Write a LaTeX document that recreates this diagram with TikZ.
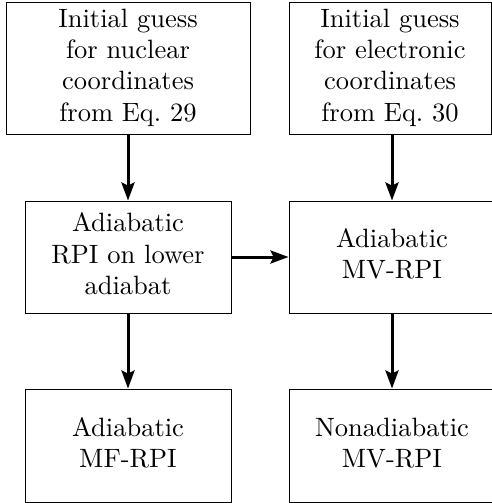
\documentclass[tikz,border=0pt]{standalone}
\usepackage{fontspec}
\usepackage{graphicx}
\usetikzlibrary{arrows.meta}
\newcommand{\boxtext}[1]{\scalebox{2.65}{\fontsize{10}{11.8}\selectfont\begin{tabular}{@{}c@{}}#1\end{tabular}}}
\begin{document}
\begin{tikzpicture}[x=1pt,y=-1pt,
  box/.style={draw, line width=0.9pt, align=center, inner sep=0pt},
  flow/.style={line width=3pt, -{Stealth[length=18pt,width=13pt,inset=3pt]}}]
\useasboundingbox (0,0) rectangle (492,503);
\node[box, minimum width=244pt, minimum height=132pt] (tl) at (128,68)
  {\boxtext{Initial guess\\for nuclear\\coordinates\\from Eq.~29}};
\node[box, minimum width=202pt, minimum height=132pt] (tr) at (390,68)
  {\boxtext{Initial guess\\for electronic\\coordinates\\from Eq.~30}};
\node[box, minimum width=206pt, minimum height=112pt] (ml) at (128,257)
  {\boxtext{Adiabatic\\RPI on lower\\adiabat}};
\node[box, minimum width=206pt, minimum height=112pt] (mr) at (392,257)
  {\boxtext{Adiabatic\\MV-RPI}};
\node[box, minimum width=206pt, minimum height=113pt] (bl) at (128,445.5)
  {\boxtext{Adiabatic\\MF-RPI}};
\node[box, minimum width=206pt, minimum height=113pt] (br) at (392,445.5)
  {\boxtext{Nonadiabatic\\MV-RPI}};
\draw[flow] (tl.south) -- (ml.north);
\draw[flow] (mr.north |- tr.south) -- (mr.north);
\draw[flow] (ml.east) -- (mr.west);
\draw[flow] (ml.south) -- (bl.north);
\draw[flow] (mr.south) -- (br.north);
\end{tikzpicture}
\end{document}
